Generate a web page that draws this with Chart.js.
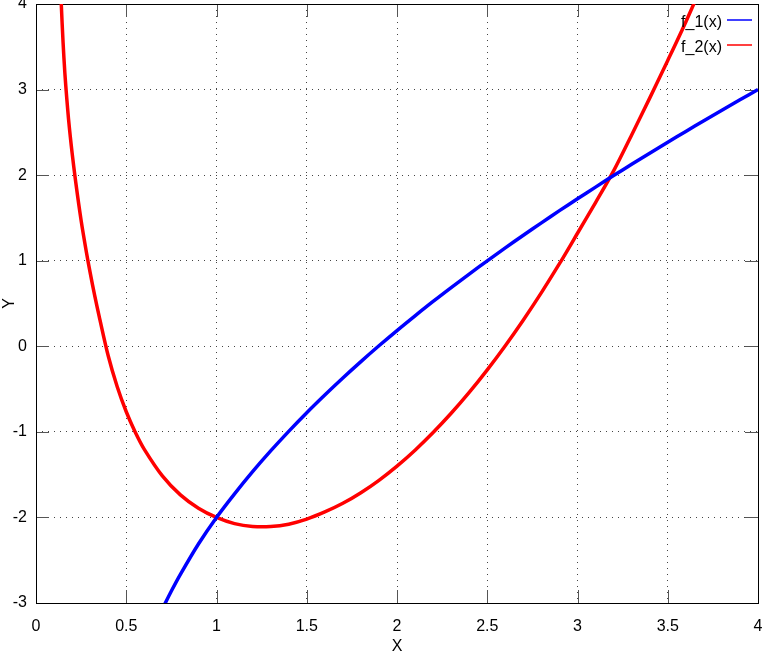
<!DOCTYPE html>
<html><head><meta charset="utf-8">
<script src="https://cdn.jsdelivr.net/npm/chart.js@4.4.0/dist/chart.umd.min.js"></script>
<style>html,body{margin:0;padding:0;background:#fff}#wrap{width:762px;height:653px}</style>
</head><body><div id="wrap"><canvas id="c" width="762" height="653"></canvas></div>
<script>
const xTicks = [0, 0.5, 1, 1.5, 2, 2.5, 3, 3.5, 4];
const yTicks = [-3, -2, -1, 0, 1, 2, 3, 4];
const seriesLabels = ['f_1(x)', 'f_2(x)'];
const axisTitles = ['X', 'Y'];

const f1X = [0.7, 0.75, 0.8, 0.9, 1.0, 1.1, 1.2, 1.3, 1.4, 1.5, 1.6, 1.7, 1.8, 1.9,
  2.0, 2.1, 2.2, 2.3, 2.4, 2.5, 2.6, 2.7, 2.8, 2.9, 3.0, 3.1, 3.2, 3.3, 3.4, 3.5, 3.6, 3.7, 3.8, 3.9, 4.0];
const f1Y = [-3.07, -2.86, -2.665, -2.31, -2.0, -1.724, -1.465, -1.223, -0.994, -0.776, -0.569, -0.37, -0.179, 0.006,
  0.184, 0.356, 0.524, 0.686, 0.844, 0.999, 1.15, 1.298, 1.442, 1.585, 1.724, 1.86, 1.995, 2.127, 2.257, 2.384, 2.511, 2.636, 2.758, 2.88, 3.0];

const f2X = [0.13, 0.14, 0.15, 0.16, 0.17, 0.18, 0.19, 0.2, 0.22, 0.25, 0.28, 0.3, 0.325, 0.35, 0.4, 0.45, 0.5, 0.55, 0.6, 0.7, 0.8, 0.9,
  1.0, 1.1, 1.2, 1.3, 1.4, 1.5, 1.6, 1.7, 1.8, 1.9, 2.0, 2.1, 2.2, 2.3, 2.4, 2.5, 2.6, 2.7, 2.8, 2.9,
  3.0, 3.1, 3.2, 3.3, 3.4, 3.5, 3.6, 3.7];
const f2Y = [4.55, 4.0, 3.55, 3.19, 2.91, 2.66, 2.45, 2.26, 1.92, 1.47, 1.09, 0.86, 0.595, 0.35, -0.111, -0.473, -0.765, -1.004, -1.204, -1.514, -1.736, -1.892,
  -2.0, -2.072, -2.106, -2.107, -2.079, -2.02, -1.936, -1.835, -1.711, -1.566, -1.40, -1.214, -1.008, -0.783, -0.539, -0.275, 0.007, 0.308, 0.627, 0.965,
  1.321, 1.68, 2.05, 2.47, 2.90, 3.34, 3.79, 4.27];

const colors = ['#0000ff', '#ff0000'];
const FONT = 'Liberation Sans, Arial, sans-serif';
const toPts = (xs, ys) => xs.map((x, i) => ({x: x, y: ys[i]}));
const noPad = s => { s.paddingTop = 0; s.paddingBottom = 0; s.paddingLeft = 0; s.paddingRight = 0; };

const framePlugin = {
  id: 'frame',
  beforeDatasetsDraw(chart) {
    const {ctx, chartArea: a, scales} = chart;
    const L = 13;
    ctx.save();
    ctx.strokeStyle = '#555';
    ctx.lineWidth = 1;
    ctx.setLineDash([]);
    ctx.beginPath();
    xTicks.forEach(v => {
      const px = Math.round(scales.x.getPixelForValue(v)) + 0.5;
      ctx.moveTo(px, a.bottom); ctx.lineTo(px, a.bottom - L);
      ctx.moveTo(px, a.top); ctx.lineTo(px, a.top + L);
    });
    yTicks.forEach(v => {
      const py = Math.round(scales.y.getPixelForValue(v)) + 0.5;
      ctx.moveTo(a.left, py); ctx.lineTo(a.left + L, py);
      ctx.moveTo(a.right, py); ctx.lineTo(a.right - L, py);
    });
    ctx.stroke();
    ctx.strokeStyle = '#000';
    ctx.strokeRect(Math.round(a.left) + 0.5, Math.round(a.top) + 0.5,
      Math.round(a.right - a.left), Math.round(a.bottom - a.top));
    ctx.restore();
  },
  afterDraw(chart) {
    const {ctx} = chart;
    ctx.save();
    ctx.font = '16px ' + FONT;
    ctx.textAlign = 'right';
    ctx.textBaseline = 'middle';
    chart.data.datasets.forEach((ds, i) => {
      const y = 20 + i * 25;
      ctx.fillStyle = '#000';
      ctx.fillText(ds.label, 722, y + 3);
      ctx.strokeStyle = ds.borderColor;
      ctx.lineWidth = 1.5;
      ctx.beginPath();
      ctx.moveTo(727, y); ctx.lineTo(752, y);
      ctx.stroke();
    });
    ctx.restore();
  }
};

new Chart(document.getElementById('c'), {
  type: 'scatter',
  data: {
    datasets: [
      {label: seriesLabels[0], data: toPts(f1X, f1Y), borderColor: colors[0], backgroundColor: colors[0]},
      {label: seriesLabels[1], data: toPts(f2X, f2Y), borderColor: colors[1], backgroundColor: colors[1]}
    ].map(d => Object.assign(d, {showLine: true, pointRadius: 0, borderWidth: 3.5, tension: 0.3, fill: false}))
  },
  options: {
    responsive: false,
    animation: false,
    devicePixelRatio: 1,
    layout: {padding: {top: 4, right: 4, left: 0, bottom: 0}},
    plugins: {legend: {display: false}, tooltip: {enabled: false}},
    scales: {
      x: {
        type: 'linear', min: 0, max: 4,
        afterBuildTicks: s => { s.ticks = xTicks.map(v => ({value: v})); },
        afterFit: s => { s.height = 50; noPad(s); },
        ticks: {font: {family: FONT, size: 16}, color: '#000', maxRotation: 0, autoSkip: false, padding: 14,
          callback: v => String(v)},
        grid: {color: '#444', lineWidth: 1, drawTicks: false},
        border: {display: false, dash: [1, 5]},
        title: {display: true, text: axisTitles[0], font: {family: FONT, size: 16}, color: '#000', padding: {top: 0, bottom: -3}}
      },
      y: {
        type: 'linear', min: -3, max: 4,
        afterBuildTicks: s => { s.ticks = yTicks.map(v => ({value: v})); },
        afterFit: s => { s.width = 36; noPad(s); },
        ticks: {font: {family: FONT, size: 16}, color: '#000', padding: 9, callback: v => String(v)},
        grid: {color: '#444', lineWidth: 1, drawTicks: false},
        border: {display: false, dash: [1, 5]},
        title: {display: true, text: axisTitles[1], font: {family: FONT, size: 16}, color: '#000', padding: {top: 0, bottom: 0}}
      }
    }
  },
  plugins: [framePlugin]
});
</script>
</body></html>
